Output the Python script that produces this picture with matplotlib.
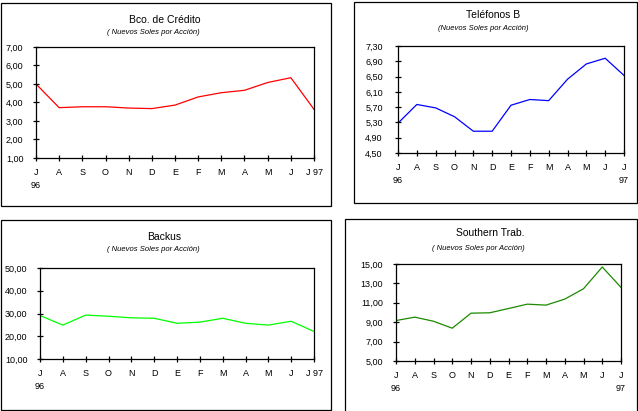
import matplotlib
matplotlib.use("Agg")
import matplotlib.pyplot as plt
from matplotlib.patches import Rectangle
from matplotlib.ticker import FuncFormatter

plt.rcParams['font.family'] = ['Liberation Sans', 'DejaVu Sans']

W, H = 638, 411

meses = ["J\n96", "A", "S", "O", "N", "D", "E", "F", "M", "A", "M", "J", "J 97"]
meses_b = ["J\n96", "A", "S", "O", "N", "D", "E", "F", "M", "A", "M", "J", "J\n97"]

credito = [5.00, 3.72, 3.77, 3.77, 3.70, 3.67, 3.86, 4.30, 4.53, 4.66, 5.08, 5.34, 3.63]
telefonos = [5.28, 5.77, 5.68, 5.45, 5.07, 5.07, 5.75, 5.90, 5.87, 6.43, 6.83, 6.98, 6.53]
backus = [29.1, 24.9, 29.3, 28.8, 28.1, 27.9, 25.7, 26.2, 27.9, 25.7, 24.9, 26.6, 22.1]
southern = [9.17, 9.52, 9.10, 8.38, 9.93, 9.97, 10.41, 10.86, 10.76, 11.38, 12.45, 14.69, 12.59]

subt = "( Nuevos Soles por Acción)"
subt2 = "(Nuevos Soles por Acción)"

# name, values, color, ticks, labels, axes box (l, t, r, b px), frame box, title pos, subtitle pos, subtitle, ypad
paneles = [
    ("Bco. de Crédito", credito, "#ff0000", [1, 2, 3, 4, 5, 6, 7], meses,
     (36, 47, 314, 158), (1, 3, 331, 206), (165, 20), (153, 32), subt, 7),
    ("Teléfonos B", telefonos, "#0000ff", [4.5, 4.9, 5.3, 5.7, 6.1, 6.5, 6.9, 7.3], meses_b,
     (398, 46, 624, 153), (354, 2, 637, 203), (493, 15), (483, 29), subt2, 9),
    ("Backus", backus, "#00ff00", [10, 20, 30, 40, 50], meses,
     (40, 268, 314, 359), (1, 220, 331, 410), (164, 237), (153, 249), subt, 7),
    ("Southern Trab.", southern, "#1a8a00", [5, 7, 9, 11, 13, 15], meses_b,
     (396, 264, 621, 361), (345, 219, 637, 415), (490, 233), (478, 248), subt, 7.5),
]

fig = plt.figure(figsize=(W / 100, H / 100), dpi=100)

coma = FuncFormatter(lambda v, p: f"{v:.2f}".replace(".", ","))

for nombre, vals, color, yt, labs, ax_px, box, tpos, spos, st, ypad in paneles:
    l, t, r, b = ax_px
    ax = fig.add_axes([l / W, 1 - b / H, (r - l) / W, (b - t) / H])
    ax.plot(range(len(vals)), vals, color=color, lw=0.9)
    ax.set_xlim(0, len(vals) - 1)
    ax.set_ylim(yt[0], yt[-1])
    ax.set_yticks(yt)
    ax.yaxis.set_major_formatter(coma)
    ax.set_xticks(range(len(labs)))
    ax.set_xticklabels(labs, linespacing=1.6, va="top")
    ax.tick_params(direction="inout", length=4, width=0.9, labelsize=6.5)
    ax.tick_params(axis="x", pad=5)
    ax.tick_params(axis="y", pad=ypad)
    for s in ax.spines.values():
        s.set_linewidth(0.9)

    bl, bt, br, bb = box
    fig.patches.append(Rectangle((bl / W, 1 - bb / H), (br - bl) / W, (bb - bt) / H,
                                 transform=fig.transFigure, fill=False,
                                 edgecolor="black", lw=0.9))
    fig.text(tpos[0] / W, 1 - tpos[1] / H, nombre, ha="center", va="center", fontsize=7.5)
    fig.text(spos[0] / W, 1 - spos[1] / H, st, ha="center", va="center", fontsize=5.5,
             style="italic", family=["Liberation Sans Narrow", "Liberation Sans"])

fig.savefig("out.png", dpi=100)
